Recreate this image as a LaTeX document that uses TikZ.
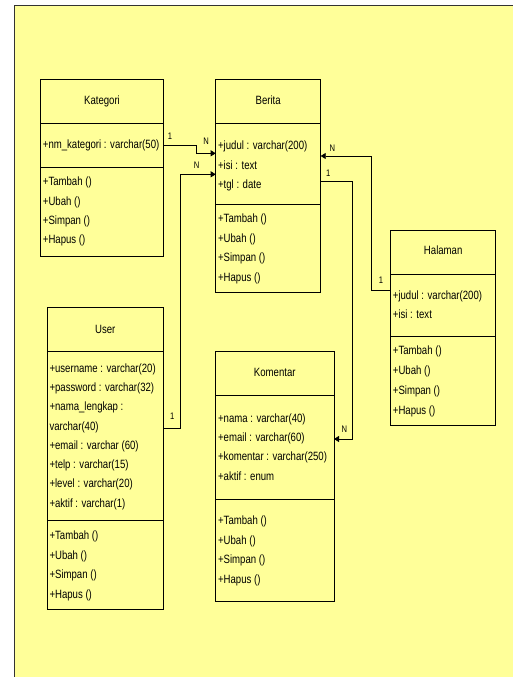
\documentclass[tikz,border=0pt]{standalone}
\usepackage{fontspec}
\setmainfont{Liberation Sans}[FakeStretch=0.8]
\usetikzlibrary{arrows.meta,calc}
\definecolor{bgyellow}{HTML}{FFFF99}
\definecolor{frameline}{HTML}{333333}
\begin{document}
\begin{tikzpicture}[x=1pt,y=-1pt,
  classbox/.style={draw=black,line width=0.8pt,fill=bgyellow,anchor=north west,inner sep=0pt,outer sep=0pt},
  txt/.style={anchor=west,inner sep=0pt,text height=8.8pt,text depth=2.5pt,font=\fontsize{12}{14}\selectfont},
  ttl/.style={anchor=center,inner sep=0pt,text height=8.8pt,text depth=2.5pt,font=\fontsize{12}{14}\selectfont},
  mult/.style={anchor=center,inner sep=0pt,font=\fontsize{9.5}{11}\selectfont},
  divider/.style={draw=black,line width=0.8pt},
  conn/.style={draw=black,line width=0.8pt},
  arr/.style={conn,-{Triangle[length=5pt,width=6pt]}}]
\useasboundingbox (0,0) rectangle (513,677);
\fill[white] (0,0) rectangle (513,677);
\fill[bgyellow] (14.3,5) rectangle (513,677);
\draw[frameline,line width=0.9pt] (14.3,677) -- (14.3,5) -- (513,5);

% ---------------- Kategori
\node[classbox,minimum width=122.6pt,minimum height=176.7pt] (kategori) at (40.7,79.3) {};
\draw[divider] (kategori.north west) ++(0,44) -- ++(122.6,0);
\draw[divider] (kategori.north west) ++(0,88.4) -- ++(122.6,0);
\node[ttl] (kategori-t) at (102,101.3) {Kategori};
\node[txt] (kategori-a1) at (42.7,145.7) {+nm\_kategori : varchar(50)};
\foreach \t [count=\i] in {+Tambah (),+Ubah (),+Simpan (),+Hapus ()}
  \node[txt] (kategori-m\i) at ({42.7},{182.7+19.3*(\i-1)}) {\t};

% ---------------- Berita
\node[classbox,minimum width=105pt,minimum height=213pt] (berita) at (215.7,79.3) {};
\draw[divider] (berita.north west) ++(0,44) -- ++(105,0);
\draw[divider] (berita.north west) ++(0,125) -- ++(105,0);
\node[ttl] (berita-t) at (268.2,101.3) {Berita};
\foreach \t [count=\i] in {+judul : varchar(200),+isi : text,+tgl : date}
  \node[txt] (berita-a\i) at ({217.9},{146.7+19.2*(\i-1)}) {\t};
\foreach \t [count=\i] in {+Tambah (),+Ubah (),+Simpan (),+Hapus ()}
  \node[txt] (berita-m\i) at ({217.9},{219.3+19.6*(\i-1)}) {\t};

% ---------------- Halaman
\node[classbox,minimum width=105pt,minimum height=195pt] (halaman) at (390.7,230) {};
\draw[divider] (halaman.north west) ++(0,44.3) -- ++(105,0);
\draw[divider] (halaman.north west) ++(0,106.7) -- ++(105,0);
\node[ttl] (halaman-t) at (443.2,251.7) {Halaman};
\foreach \t [count=\i] in {+judul : varchar(200),+isi : text}
  \node[txt] (halaman-a\i) at ({392.7},{296.7+19*(\i-1)}) {\t};
\foreach \t [count=\i] in {+Tambah (),+Ubah (),+Simpan (),+Hapus ()}
  \node[txt] (halaman-m\i) at ({392.7},{351.7+19.8*(\i-1)}) {\t};

% ---------------- User
\node[classbox,minimum width=116pt,minimum height=301.6pt] (user) at (47.3,307.7) {};
\draw[divider] (user.north west) ++(0,44) -- ++(116,0);
\draw[divider] (user.north west) ++(0,213) -- ++(116,0);
\node[ttl] (user-t) at (105.3,330) {User};
\foreach \t [count=\i] in {+username : varchar(20),+password : varchar(32),+nama\_lengkap :,varchar(40),+email : varchar (60),+telp : varchar(15),+level : varchar(20),+aktif : varchar(1)}
  \node[txt] (user-a\i) at ({49.3},{369+19.3*(\i-1)}) {\t};
\foreach \t [count=\i] in {+Tambah (),+Ubah (),+Simpan (),+Hapus ()}
  \node[txt] (user-m\i) at ({49.3},{536.7+19.4*(\i-1)}) {\t};

% ---------------- Komentar
\node[classbox,minimum width=118.3pt,minimum height=250pt] (komentar) at (215.7,351.7) {};
\draw[divider] (komentar.north west) ++(0,44) -- ++(118.3,0);
\draw[divider] (komentar.north west) ++(0,147.3) -- ++(118.3,0);
\node[ttl] (komentar-t) at (274.8,373.3) {Komentar};
\foreach \t [count=\i] in {+nama : varchar(40),+email : varchar(60),+komentar : varchar(250),+aktif : enum}
  \node[txt] (komentar-a\i) at ({217.9},{419+19.3*(\i-1)}) {\t};
\foreach \t [count=\i] in {+Tambah (),+Ubah (),+Simpan (),+Hapus ()}
  \node[txt] (komentar-m\i) at ({217.9},{521.7+19.4*(\i-1)}) {\t};

% ---------------- Connectors
% Kategori -> Berita
\draw[arr] ($(kategori.north east)+(0,66.4)$) -- ++(33.4,0) |- ($(berita.north west)+(0,74)$);
\node[mult] (m-k1) at (170,136.7) {1};
\node[mult] (m-kN) at (206,141.5) {N};
% User -> Berita
\draw[arr] ($(user.north east)+(0,120.6)$) -- ++(17.4,0) |- ($(berita.north west)+(0,95)$);
\node[mult] (m-u1) at (172.3,416.7) {1};
\node[mult] (m-uN) at (196.5,165) {N};
% Halaman -> Berita
\draw[arr] ($(halaman.north west)+(0,60)$) -- ++(-19,0) |- ($(berita.north east)+(0,76.7)$);
\node[mult] (m-h1) at (381,280.7) {1};
\node[mult] (m-hN) at (332.3,148.3) {N};
% Berita -> Komentar
\draw[arr] ($(berita.north east)+(0,101.7)$) -- ++(32,0) |- ($(komentar.north east)+(0,87.3)$);
\node[mult] (m-b1) at (328.3,173.3) {1};
\node[mult] (m-bN) at (344.3,429.3) {N};
\end{tikzpicture}
\end{document}
